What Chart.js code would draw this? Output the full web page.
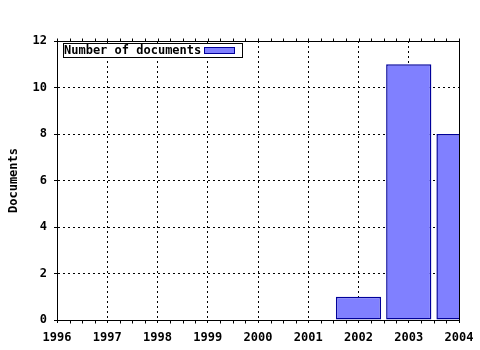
<!DOCTYPE html>
<html>
<head>
<meta charset="utf-8">
<script src="https://cdn.jsdelivr.net/npm/chart.js@4"></script>
<style>
  html, body { margin: 0; padding: 0; background: #fff; }
  #wrap { width: 480px; height: 350px; }
</style>
</head>
<body>
<div id="wrap"><canvas id="docChart"></canvas></div>
<script>
// data
var years = [2002, 2003, 2004];
var documents = [1, 11, 8];
var seriesLabel = 'Number of documents';
var yearRange = [1996, 2004];
var docRange = [0, 12];
var axisTitle = 'Documents';

var fillColor = '#8080ff';
var edgeColor = '#00009a';

// gnuplot style frame, minor ticks on bottom/top and the boxed key
var framePlugin = {
    id: 'frame',
    afterDatasetsDraw: function(chart) {
        var ctx = chart.ctx;
        var a = chart.chartArea;
        var x = chart.scales.x;
        var l = Math.round(a.left) + 0.5, t = Math.round(a.top) + 0.5;
        var r = Math.round(a.right) + 0.5, b = Math.round(a.bottom) + 0.5;
        ctx.save();
        ctx.strokeStyle = '#000';
        ctx.lineWidth = 1;
        ctx.setLineDash([]);
        ctx.strokeRect(l, t, r - l, b - t);

        ctx.beginPath();
        for (var yr = yearRange[0]; yr <= yearRange[1]; yr++) {
            for (var q = 0; q < 4; q++) {
                if (yr == yearRange[1] && q > 0) break;
                var px = Math.round(x.getPixelForValue(yr + q / 4)) + 0.5;
                // top ticks (majors and minors)
                ctx.moveTo(px, t);
                ctx.lineTo(px, t - 3);
                // bottom minors (majors come from the scale)
                if (q > 0) {
                    ctx.moveTo(px, b);
                    ctx.lineTo(px, b + 3);
                }
            }
        }
        ctx.stroke();

        // key box
        var ds = chart.data.datasets[0];
        ctx.fillStyle = '#fff';
        ctx.fillRect(63, 43, 180, 14);
        ctx.strokeRect(63.5, 43.5, 179, 14);
        ctx.fillStyle = '#000';
        ctx.font = 'bold 12px "DejaVu Sans Mono"';
        ctx.textBaseline = 'middle';
        ctx.fillText(ds.label, 64, 51);
        ctx.fillStyle = ds.backgroundColor;
        ctx.fillRect(204, 47, 31, 6);
        ctx.strokeStyle = ds.borderColor;
        ctx.strokeRect(204.5, 47.5, 30, 6);
        ctx.restore();
    }
};

Chart.defaults.font.family = '"DejaVu Sans Mono", monospace';
Chart.defaults.font.weight = 'bold';
Chart.defaults.font.size = 12;
Chart.defaults.color = '#000';

var points = years.map(function(yr, i) { return { x: yr, y: documents[i] }; });

var ctx = document.getElementById('docChart').getContext('2d');
var chart = new Chart(ctx, {
    type: 'bar',
    data: {
        datasets: [{
            label: seriesLabel,
            data: points,
            backgroundColor: fillColor,
            borderColor: edgeColor,
            borderWidth: 1.5,
            borderSkipped: false,
            barPercentage: 0.9,
            categoryPercentage: 1,
            clip: 0
        }]
    },
    options: {
        responsive: true,
        maintainAspectRatio: false,
        animation: false,
        layout: { padding: { top: 41, right: 21, left: 0, bottom: 0 } },
        plugins: {
            legend: { display: false },
            tooltip: { enabled: false }
        },
        scales: {
            x: {
                type: 'linear',
                min: yearRange[0],
                max: yearRange[1],
                offset: false,
                grid: {
                    offset: false,
                    color: '#000',
                    lineWidth: 1,
                    tickLength: 3,
                    tickColor: '#000',
                    tickBorderDash: []
                },
                border: { display: true, color: '#000', width: 1, dash: [2, 3] },
                ticks: {
                    stepSize: 1,
                    padding: 8,
                    maxRotation: 0,
                    autoSkip: false,
                    callback: function(v) { return String(v); }
                },
                afterFit: function(s) {
                    s.height = 30;
                    // the edge labels fit in the margins already
                    s.paddingLeft = 0;
                    s.paddingRight = 0;
                }
            },
            y: {
                min: docRange[0],
                max: docRange[1],
                grid: {
                    color: '#000',
                    lineWidth: 1,
                    tickLength: 3,
                    tickColor: '#000',
                    tickBorderDash: []
                },
                border: { display: true, color: '#000', width: 1, dash: [2, 3] },
                ticks: { stepSize: 2, padding: 7 },
                title: {
                    display: true,
                    text: axisTitle,
                    padding: { top: 7, bottom: 0 }
                },
                afterFit: function(s) { s.width = 57; }
            }
        }
    },
    plugins: [framePlugin]
});
</script>
</body>
</html>
